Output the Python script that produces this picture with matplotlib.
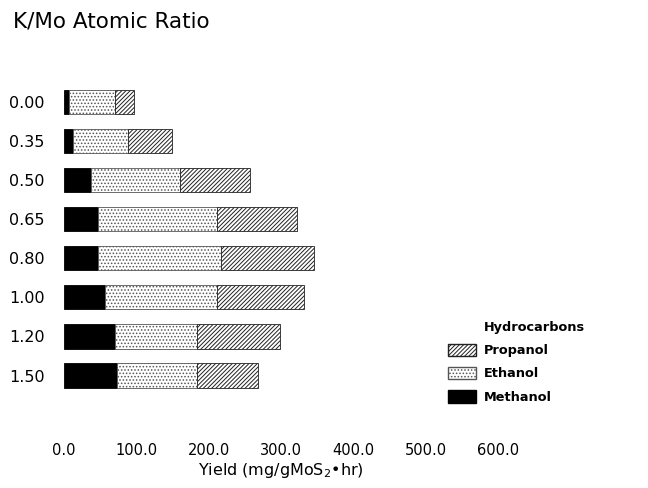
import numpy as np
import matplotlib.pyplot as plt
from matplotlib.patches import Patch

ratios = ['0.00', '0.35', '0.50', '0.65', '0.80', '1.00', '1.20', '1.50']
methanol = [7, 12, 37, 47, 47, 56, 70, 73]
ethanol = [63, 77, 123, 164, 170, 156, 114, 111]
propanol = [27, 60, 97, 111, 128, 120, 114, 84]
hydrocarbons = [0, 0, 0, 0, 0, 0, 0, 0]

plt.rcParams['font.family'] = ['DejaVu Sans']
plt.rcParams['hatch.linewidth'] = 0.7

fig = plt.figure(figsize=(6.48, 4.88), dpi=100)
ax = fig.add_axes([64 / 648, 1 - 435 / 488, 434 / 648, 355 / 488])

y = np.arange(len(ratios))
h = 0.62
left = np.zeros(len(ratios))
ax.barh(y, methanol, h, left=left, color='black', edgecolor='black', linewidth=0.6)
left += methanol
ax.barh(y, ethanol, h, left=left, color='white', edgecolor='#555555', hatch='.....', linewidth=0.6)
left += ethanol
ax.barh(y, propanol, h, left=left, color='white', edgecolor='#222222', hatch='////////', linewidth=0.6)
left += propanol
ax.barh(y, hydrocarbons, h, left=left, color='white', edgecolor='none')

ax.set_xlim(0, 600)
ax.set_ylim(8.52, -0.56)
ax.set_yticks(y)
ax.set_yticklabels(ratios, fontsize=11.5)
ax.set_xticks(np.arange(0, 601, 100))
ax.set_xticklabels([f'{v:.1f}' for v in range(0, 601, 100)], fontsize=10.5)
ax.tick_params(axis='y', length=0, pad=14)
ax.tick_params(axis='x', length=0, pad=6)
for s in ax.spines.values():
    s.set_visible(False)

ax.set_xlabel('Yield (mg/gMoS$_2$•hr)', fontsize=11.5, labelpad=2)
fig.text(0.02, 0.955, 'K/Mo Atomic Ratio', fontsize=15.5, ha='left', va='center')

handles = [
    Patch(facecolor='white', edgecolor='none', label='Hydrocarbons'),
    Patch(facecolor='white', edgecolor='#222222', hatch='////////', label='Propanol'),
    Patch(facecolor='white', edgecolor='#555555', hatch='.....', label='Ethanol'),
    Patch(facecolor='black', edgecolor='black', label='Methanol'),
]
fig.legend(handles=handles, loc='center left', bbox_to_anchor=(436 / 648, 1 - 362 / 488),
           frameon=False, handlelength=2.2, handleheight=1.1,
           labelspacing=0.75, handletextpad=0.6, prop={'weight': 'bold', 'size': 9.3})

fig.savefig('out.png', dpi=100)
